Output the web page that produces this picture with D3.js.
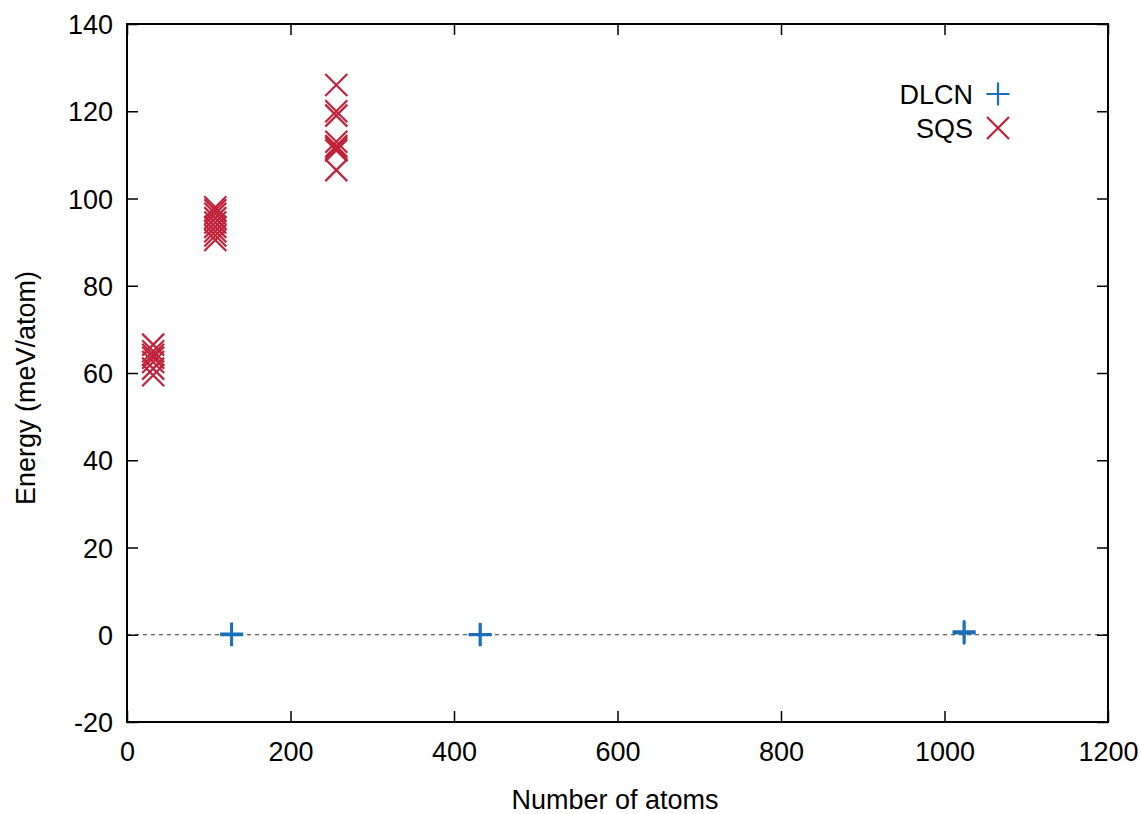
<!DOCTYPE html>
<html>
<head>
<meta charset="utf-8">
<script src="https://cdn.jsdelivr.net/npm/d3@7"></script>
<style>
  html, body { margin: 0; padding: 0; background: #fff; }
  svg { display: block; font-family: "Liberation Sans", Arial, sans-serif; }
</style>
</head>
<body>
<svg id="chart" width="1141" height="814"></svg>
<script>
// DLCN structures: number of atoms and energy (meV/atom)
const dlcnAtoms  = [128, 128, 432, 432, 1024, 1024];
const dlcnEnergy = [0.0, 0.2, 0.0, 0.1, 0.4, 0.7];

// SQS structures: number of atoms and energy (meV/atom)
const sqsAtoms  = [32, 32, 32, 32, 32, 32, 32,
                   108, 108, 108, 108, 108, 108, 108, 108, 108,
                   256, 256, 256, 256, 256, 256, 256, 256];
const sqsEnergy = [59.5, 61.0, 62.5, 63.5, 64.2, 65.0, 66.5,
                   90.5, 91.5, 92.5, 93.5, 94.5, 95.5, 96.5, 97.3, 98.0,
                   106.5, 111.0, 111.5, 112.0, 113.0, 119.0, 120.0, 126.0];

const xTicks = [0, 200, 400, 600, 800, 1000, 1200];
const yTicks = [-20, 0, 20, 40, 60, 80, 100, 120, 140];
const seriesNames = ["DLCN", "SQS"];
const xTitle = "Number of atoms";
const yTitle = "Energy (meV/atom)";

const blue = "#1a6fb9";
const red  = "#c0223a";

const svg = d3.select("#chart");
const plotLeft = 127, plotRight = 1108, plotTop = 24, plotBottom = 722;

const x = d3.scaleLinear().domain([0, 1200]).range([plotLeft, plotRight]);
const y = d3.scaleLinear().domain([-20, 140]).range([plotBottom, plotTop]);

const tickLen = 11;
const fontSize = 27;
const plainNumber = d => String(d);

// zero reference line
svg.append("line")
  .attr("x1", plotLeft).attr("x2", plotRight)
  .attr("y1", y(0)).attr("y2", y(0))
  .attr("stroke", "#333").attr("stroke-width", 1)
  .attr("stroke-dasharray", "4,4");

// axes with inward ticks, mirrored on the opposite sides
const gBottom = svg.append("g").attr("transform", `translate(0,${plotBottom})`)
  .call(d3.axisBottom(x).tickValues(xTicks).tickFormat(plainNumber)
    .tickSizeInner(-tickLen).tickSizeOuter(0).tickPadding(20));
const gTop = svg.append("g").attr("transform", `translate(0,${plotTop})`)
  .call(d3.axisTop(x).tickValues(xTicks).tickSizeInner(-tickLen).tickSizeOuter(0).tickFormat(""));
const gLeft = svg.append("g").attr("transform", `translate(${plotLeft},0)`)
  .call(d3.axisLeft(y).tickValues(yTicks).tickFormat(plainNumber)
    .tickSizeInner(-tickLen).tickSizeOuter(0).tickPadding(14));
const gRight = svg.append("g").attr("transform", `translate(${plotRight},0)`)
  .call(d3.axisRight(y).tickValues(yTicks).tickSizeInner(-tickLen).tickSizeOuter(0).tickFormat(""));

[gBottom, gTop, gLeft, gRight].forEach(g => {
  g.select(".domain").remove();
  g.selectAll(".tick line").attr("stroke", "#000").attr("stroke-width", 1.5);
  g.selectAll(".tick text")
    .attr("fill", "#000")
    .style("font-size", fontSize + "px")
    .style("font-family", "'Liberation Sans', Arial, sans-serif");
});
gLeft.selectAll(".tick text").attr("dy", "0.36em");

// frame
svg.append("rect")
  .attr("x", plotLeft).attr("y", plotTop)
  .attr("width", plotRight - plotLeft).attr("height", plotBottom - plotTop)
  .attr("fill", "none").attr("stroke", "#000").attr("stroke-width", 2);

// marker paths
const half = 11.5;
const plusPath = `M${-half},0H${half}M0,${-half}V${half}`;
const crossHalf = 11;
const crossPath = `M${-crossHalf},${-crossHalf}L${crossHalf},${crossHalf}M${-crossHalf},${crossHalf}L${crossHalf},${-crossHalf}`;

svg.append("g").selectAll("path")
  .data(d3.range(sqsAtoms.length))
  .join("path")
  .attr("d", crossPath)
  .attr("transform", i => `translate(${x(sqsAtoms[i])},${y(sqsEnergy[i])})`)
  .attr("fill", "none").attr("stroke", red).attr("stroke-width", 2.2);

svg.append("g").selectAll("path")
  .data(d3.range(dlcnAtoms.length))
  .join("path")
  .attr("d", plusPath)
  .attr("transform", i => `translate(${x(dlcnAtoms[i])},${y(dlcnEnergy[i])})`)
  .attr("fill", "none").attr("stroke", blue).attr("stroke-width", 2.8);

// legend
const legend = svg.append("g");
const legendRows = [
  { name: seriesNames[0], path: plusPath, color: blue, yPos: 94 },
  { name: seriesNames[1], path: crossPath, color: red, yPos: 128 }
];
legendRows.forEach(r => {
  legend.append("text")
    .attr("x", 973).attr("y", r.yPos).attr("dy", "0.36em")
    .attr("text-anchor", "end")
    .style("font-size", fontSize + "px")
    .attr("fill", "#000")
    .text(r.name);
  legend.append("path")
    .attr("d", r.path)
    .attr("transform", `translate(998,${r.yPos})`)
    .attr("fill", "none").attr("stroke", r.color).attr("stroke-width", 2.2);
});

// axis titles
svg.append("text")
  .attr("x", 615).attr("y", 809)
  .attr("text-anchor", "middle")
  .style("font-size", fontSize + "px")
  .text(xTitle);

svg.append("text")
  .attr("transform", `translate(35,388) rotate(-90)`)
  .attr("text-anchor", "middle")
  .style("font-size", fontSize + "px")
  .text(yTitle);
</script>
</body>
</html>
